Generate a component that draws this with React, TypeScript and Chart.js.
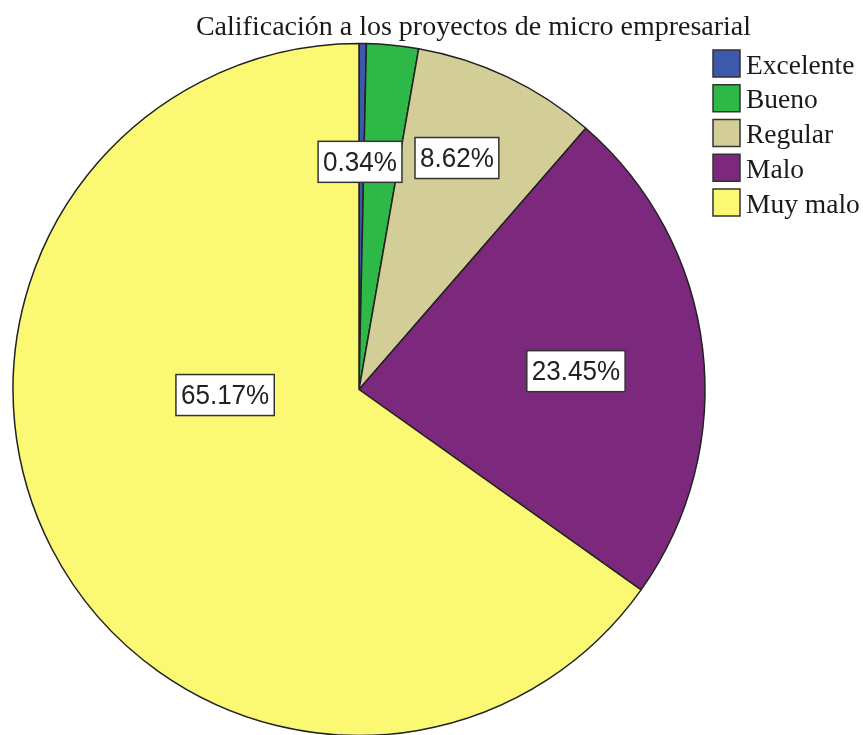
import React, { useEffect, useRef } from "react";
import { Chart, registerables } from "chart.js";

Chart.register(...registerables);

const TITLE = "Calificación a los proyectos de micro empresarial";
const categories = ["Excelente", "Bueno", "Regular", "Malo", "Muy malo"];
const percentages = [0.34, 2.42, 8.62, 23.45, 65.17];
const showLabel = [true, false, true, true, true];
const colors = ["#3E58AC", "#2EB848", "#D3CE97", "#7C287D", "#FBF873"];
// label box centre offsets, relative to pie centre, in units of the radius
const labelOffsets: ([number, number] | null)[] = [
  [0.003, -0.658],
  null,
  [0.283, -0.669],
  [0.627, -0.053],
  [-0.387, 0.016],
];

const INK = "#1a1a1a";

const overlayPlugin = {
  id: "overlay",
  afterDatasetsDraw(chart: any) {
    const ctx: CanvasRenderingContext2D = chart.ctx;
    const meta = chart.getDatasetMeta(0);
    meta.data.forEach((arc: any, i: number) => {
      const off = labelOffsets[i];
      if (!off || !showLabel[i]) return;
      const { x, y, outerRadius } = arc.getProps(["x", "y", "outerRadius"], true);
      const cx = x + off[0] * outerRadius;
      const cy = y + off[1] * outerRadius;
      const text = percentages[i].toFixed(2) + "%";
      ctx.save();
      ctx.font = '28px "Liberation Sans"';
      const w = ctx.measureText(text).width * 0.93;
      const bw = w + 10;
      const bh = 41;
      ctx.fillStyle = "#ffffff";
      ctx.fillRect(cx - bw / 2, cy - bh / 2, bw, bh);
      ctx.strokeStyle = "#333";
      ctx.lineWidth = 1.5;
      ctx.strokeRect(cx - bw / 2, cy - bh / 2, bw, bh);
      ctx.fillStyle = "#222";
      ctx.textAlign = "center";
      ctx.textBaseline = "middle";
      ctx.fillText(text, cx, cy + 1, w);
      ctx.restore();
    });

    // title
    ctx.save();
    ctx.font = '28px "Liberation Serif"';
    ctx.fillStyle = INK;
    ctx.textAlign = "center";
    ctx.textBaseline = "alphabetic";
    ctx.fillText(TITLE, 473.5, 35, 557);
    ctx.restore();

    // legend
    ctx.save();
    categories.forEach((c, i) => {
      const top = 50 + i * 34.75;
      ctx.fillStyle = colors[i];
      ctx.fillRect(713, top, 27, 27);
      ctx.strokeStyle = "#333";
      ctx.lineWidth = 1.5;
      ctx.strokeRect(713, top, 27, 27);
      ctx.font = '27.5px "Liberation Serif"';
      ctx.fillStyle = INK;
      ctx.textAlign = "left";
      ctx.textBaseline = "alphabetic";
      ctx.fillText(c, 746, top + 23.5);
    });
    ctx.restore();
  },
};

export default function App() {
  const ref = useRef<HTMLCanvasElement | null>(null);
  useEffect(() => {
    document.body.style.margin = "0";
    document.body.style.overflow = "hidden";
    const canvas = ref.current;
    if (!canvas) return;
    const chart = new Chart(canvas, {
      type: "pie",
      data: {
        labels: categories,
        datasets: [
          {
            data: percentages,
            backgroundColor: colors,
            borderColor: "#222",
            borderWidth: 1.5,
            radius: 346,
          } as any,
        ],
      },
      options: {
        responsive: false,
        animation: false,
        layout: { padding: { left: 0, right: 145, top: 44, bottom: 0 } },
        plugins: {
          legend: { display: false },
          title: { display: false },
          tooltip: { enabled: false },
        },
      } as any,
      plugins: [overlayPlugin],
    });
    return () => chart.destroy();
  }, []);
  return (
    <div style={{ width: 863, height: 735, background: "#fff" }}>
      <canvas ref={ref} width={863} height={735} style={{ display: "block" }} />
    </div>
  );
}
